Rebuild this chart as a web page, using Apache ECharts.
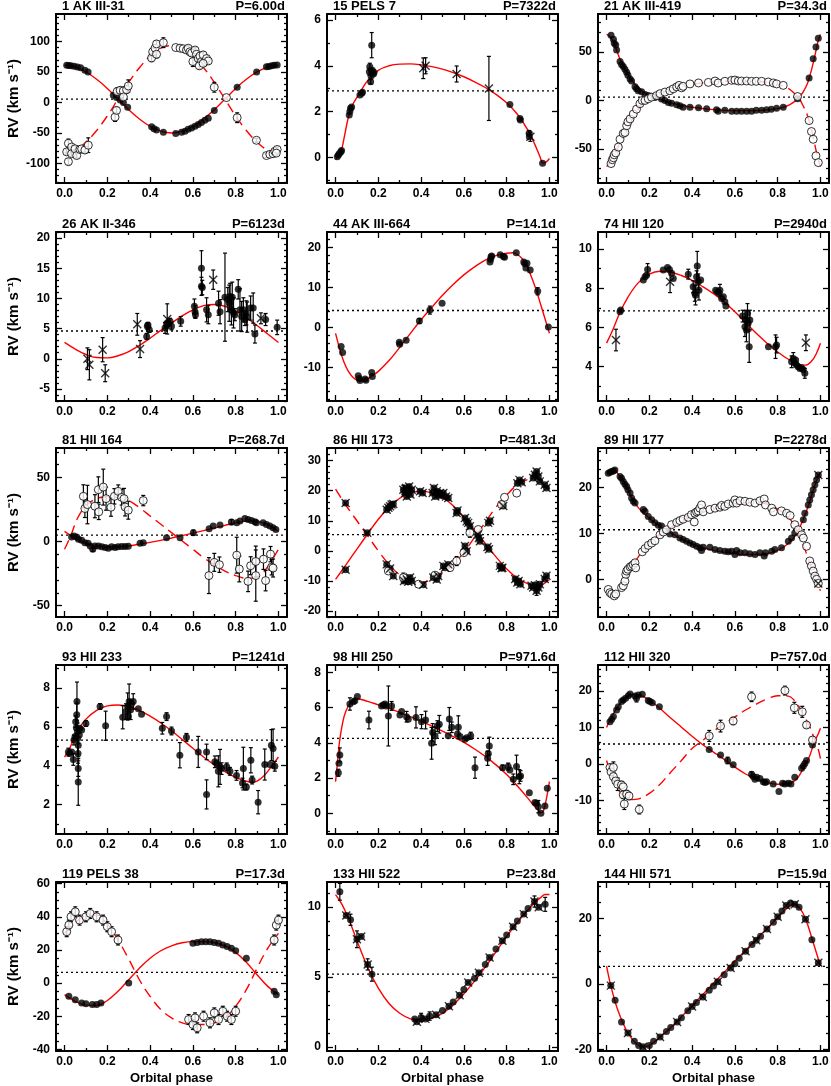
<!DOCTYPE html>
<html><head><meta charset="utf-8">
<script src="https://cdn.jsdelivr.net/npm/echarts@6/dist/echarts.min.js"></script>
<style>html,body{margin:0;padding:0;background:#fff}#c{width:831px;height:1086px}</style>
</head><body><div id="c"></div><script>
const FONT = '"Liberation Sans", Arial, Helvetica, sans-serif';
// ---------- panel labels ----------
const names = ['1 AK III-31','15 PELS 7','21 AK III-419','26 AK II-346','44 AK III-664','74 HII 120','81 HII 164','86 HII 173','89 HII 177','93 HII 233','98 HII 250','112 HII 320','119 PELS 38','133 HII 522','144 HII 571'];
const periods = ['P=6.00d','P=7322d','P=34.3d','P=6123d','P=14.1d','P=2940d','P=268.7d','P=481.3d','P=2278d','P=1241d','P=971.6d','P=757.0d','P=17.3d','P=23.8d','P=15.9d'];
const gammas = [5.5, 2.9, 3.5, 4.6, 4.2, 6.85, 5.0, 5.4, 10.8, 5.32, 4.25, 5.5, 6.5, 5.2, 5.4];
const yMins = [-132, -1.12, -85, -7, -18.4, 2.25, -58.8, -22, -8.2, 0.48, -1.17, -19.1, -41, -0.3, -20.5];
const yMaxs = [145, 6.26, 89, 21, 23.8, 10.87, 73, 34.2, 28.6, 9.19, 8.41, 27.1, 61, 11.8, 31.2];
const yTicks = [[-100,-50,0,50,100],[0,2,4,6],[-50,0,50],[-5,0,5,10,15,20],[-10,0,10,20],[4,6,8,10],[-50,0,50],[-20,-10,0,10,20,30],[0,10,20],[2,4,6,8],[0,2,4,6,8],[-10,0,10,20],[-40,-20,0,20,40,60],[0,5,10],[-20,0,20]];
const yMinorStep = [10,1,10,1,2,1,10,2,2,1,1,2,5,1,5];
const xTicks = [0,0.2,0.4,0.6,0.8,1.0];
const xMinor = [0.1,0.3,0.5,0.7,0.9];

// ---------- Panel 1 ----------
const p1F = [[0.01,61],[0.02,60.5],[0.03,60],[0.045,59.5],[0.06,58],[0.075,57],[0.095,53],[0.11,50],[0.228,12],[0.243,8],[0.26,4],[0.275,0],[0.295,-8],[0.407,-40],[0.418,-43],[0.43,-45],[0.462,-49],[0.52,-51],[0.547,-49],[0.563,-47],[0.578,-44],[0.594,-42],[0.61,-39],[0.625,-36],[0.64,-33],[0.656,-29],[0.672,-26],[0.70,-13],[0.807,25],[0.898,50],[0.944,58.5],[0.955,59],[0.968,60],[0.98,61],[0.994,61.5]];
const p1O = [[0.01,-81,4],[0.018,-67,7],[0.018,-97,5],[0.033,-73,4],[0.033,-84,4],[0.049,-76,4],[0.057,-87,4],[0.072,-77,4],[0.08,-76,4],[0.095,-78,5],[0.111,-70,12],[0.236,-24,7],[0.243,-13,5],[0.246,18,6],[0.26,20,5],[0.275,19,6],[0.275,9,5],[0.29,21,6],[0.298,27,10],[0.407,73,6],[0.412,83,6],[0.423,89,6],[0.43,96,5],[0.43,79,6],[0.462,98,8],[0.52,90,0],[0.54,89,0],[0.555,88,0],[0.57,86,0],[0.578,89,4],[0.586,83,4],[0.594,81,5],[0.6,67,8],[0.61,86,4],[0.617,79,5],[0.625,72,5],[0.633,76,5],[0.64,67,5],[0.648,78,5],[0.656,67,6],[0.664,72,5],[0.672,68,5],[0.63,60,5],[0.648,64,5],[0.70,25,8],[0.757,8,0],[0.807,-25,8],[0.897,-62,3],[0.944,-87,3],[0.96,-85,3],[0.975,-84,3],[0.983,-80,4],[0.994,-77,4],[0.99,-83,3]];
const p1CA = [[0,61],[0.05,58],[0.1,50],[0.15,38],[0.2,23],[0.25,5.5],[0.3,-12],[0.35,-27],[0.4,-39],[0.45,-47],[0.5,-50],[0.55,-47],[0.6,-39],[0.65,-27],[0.7,-12],[0.75,5.5],[0.8,23],[0.85,38],[0.9,50],[0.95,58],[1,61]];
const p1CB = [[0,-82],[0.05,-78],[0.1,-65],[0.15,-46],[0.2,-22],[0.25,5.5],[0.3,33],[0.35,57],[0.4,76],[0.45,89],[0.5,93],[0.55,89],[0.6,76],[0.65,57],[0.7,33],[0.75,5.5],[0.8,-22],[0.85,-46],[0.9,-65],[0.95,-78],[1,-82]];

// ---------- Panel 2 ----------
const p2F = [[0.008,0.03],[0.013,0.1],[0.018,0.17],[0.025,0.25],[0.028,0.3],[0.064,1.85],[0.067,2.0],[0.07,2.14],[0.075,2.2],[0.114,2.72],[0.122,2.8],[0.126,2.84],[0.158,3.74,0.15],[0.16,3.96,0.15],[0.164,3.3,0.1],[0.166,3.55,0.15],[0.169,4.9,0.55],[0.169,3.74],[0.172,3.8],[0.177,3.64],[0.18,3.7],[0.815,2.31],[0.862,1.7],[0.864,1.63],[0.905,1.05,0.12],[0.906,0.9],[0.968,-0.26]];
const p2X = [[0.41,3.89,0.45],[0.421,4.0,0.35],[0.566,3.64,0.35],[0.717,3.01,1.4],[0.911,0.9,0.2]];
const p2C = [[0,-0.1],[0.02,0.15],[0.03,0.4],[0.04,0.85],[0.06,1.75],[0.08,2.3],[0.1,2.62],[0.125,3.0],[0.15,3.35],[0.2,3.8],[0.25,4.0],[0.3,4.07],[0.35,4.08],[0.4,4.04],[0.45,3.96],[0.5,3.85],[0.55,3.7],[0.6,3.52],[0.65,3.3],[0.7,3.05],[0.75,2.75],[0.8,2.38],[0.85,1.88],[0.9,1.18],[0.93,0.6],[0.955,0.05],[0.97,-0.25],[0.985,-0.2],[1,-0.05]];

// ---------- Panel 3 ----------
const p3F = [[0.021,67],[0.032,63],[0.036,59],[0.043,57],[0.047,52],[0.063,40],[0.07,37],[0.078,35],[0.086,32],[0.094,29],[0.1,26],[0.11,22],[0.117,20],[0.133,14],[0.14,12],[0.148,10],[0.164,9],[0.18,6],[0.195,5],[0.21,4],[0.226,3],[0.257,1.4],[0.273,0],[0.289,-2],[0.304,-3],[0.328,-4.5],[0.343,-5.5],[0.358,-7],[0.39,-7],[0.43,-7.6],[0.468,-8.6],[0.514,-9.7],[0.522,-11],[0.553,-10],[0.585,-11],[0.608,-11],[0.631,-11],[0.655,-11],[0.678,-11],[0.7,-10],[0.725,-10],[0.748,-9.7],[0.77,-9],[0.795,-8],[0.826,-7],[0.893,1.7],[0.947,23],[0.966,43],[0.979,55],[0.99,64]];
const p3O = [[0.021,-65],[0.027,-61],[0.032,-59],[0.036,-56],[0.043,-54],[0.055,-48],[0.063,-40],[0.078,-34],[0.086,-33],[0.094,-26],[0.1,-22],[0.11,-19],[0.125,-14],[0.14,-9],[0.156,-3.4],[0.167,0],[0.18,0],[0.195,1.7],[0.21,3.4],[0.234,5],[0.25,7],[0.273,8.6],[0.296,10],[0.312,12],[0.328,14],[0.339,15.5],[0.351,13],[0.358,14.5],[0.39,17],[0.43,18],[0.476,18.6],[0.507,20],[0.522,18],[0.553,19.7],[0.585,20.7],[0.6,21],[0.616,20],[0.631,20],[0.655,20],[0.678,19.7],[0.7,19.7],[0.725,19.7],[0.756,19],[0.78,18],[0.795,17],[0.826,15.5],[0.893,4],[0.947,-20.7],[0.958,-32],[0.966,-40],[0.979,-57],[0.99,-64]];
const p3CA = [[0,68],[0.01,67],[0.02,64.5],[0.03,61],[0.04,56],[0.05,50],[0.06,44],[0.08,35],[0.1,27],[0.12,20.5],[0.14,15],[0.16,11],[0.18,7.5],[0.2,5],[0.25,1],[0.3,-2.5],[0.35,-5],[0.4,-7],[0.5,-9.5],[0.6,-10.5],[0.7,-10.5],[0.75,-9.8],[0.8,-8.3],[0.84,-6],[0.87,-2.5],[0.9,3],[0.92,9],[0.94,18],[0.96,33],[0.98,52],[0.99,62],[1,68]];
const p3CB = [[0,-68],[0.01,-66],[0.02,-62],[0.03,-58],[0.04,-54],[0.06,-45],[0.08,-36],[0.1,-27],[0.12,-19.5],[0.14,-12],[0.16,-5],[0.18,-0.5],[0.2,3],[0.25,7.5],[0.3,11],[0.35,14],[0.4,16.5],[0.5,19],[0.6,20],[0.7,19.5],[0.75,18.5],[0.8,16.5],[0.84,13.5],[0.87,9],[0.9,2],[0.92,-6],[0.94,-16],[0.96,-32],[0.98,-52],[0.99,-61],[1,-68]];

// ---------- Panel 4 ----------
const p4X = [[0.107,0.0,1.8],[0.116,-1.0,2.5],[0.178,1.5,2.0],[0.19,-2.4,1.4],[0.34,5.7,1.8],[0.353,1.6,1.4],[0.48,6.6,2.5],[0.695,13.1,1.6],[0.918,6.7,0.9]];
const p4F = [[0.384,3.7,0.5],[0.387,5.4,0.5],[0.39,5.6,0.4],[0.396,4.8,0.4],[0.47,5.1,0.9],[0.477,5.6,0.6],[0.485,5.9,0.5],[0.493,6.2,0.5],[0.5,5.4,0.6],[0.543,6.2,0.8],[0.607,8.7,1.2],[0.61,7.8,1.0],[0.612,7.3,0.6],[0.64,15.0,2.9],[0.64,12.0,1.5],[0.644,11.8,1.2],[0.664,8.1,2.0],[0.672,7.3,1.5],[0.72,9.2,2.0],[0.727,7.8,2.0],[0.75,10.2,7.3],[0.763,9.8,2.0],[0.77,9.2,3.0],[0.774,10.3,2.2],[0.78,8.1,2.5],[0.784,10.2,2.5],[0.79,7.6,2.5],[0.796,7.3,1.0],[0.812,11.5,1.6],[0.82,8.1,3.5],[0.828,7.0,2.5],[0.836,8.1,2.0],[0.843,6.5,1.0],[0.85,7.6,2.0],[0.854,6.9,2.5],[0.87,8.4,2.0],[0.882,8.4,2.5],[0.89,4.1,1.5],[0.94,6.5,1.0],[0.994,5.2,1.2]];
const p4C = [[0,2.7],[0.05,1.6],[0.1,0.7],[0.15,0.2],[0.2,0.15],[0.25,0.5],[0.3,1.2],[0.35,2.2],[0.4,3.4],[0.45,4.7],[0.5,5.9],[0.55,7.1],[0.6,8.1],[0.65,8.8],[0.7,9.0],[0.75,8.7],[0.8,7.9],[0.85,6.8],[0.9,5.5],[0.95,4.1],[1,2.7]];

// ---------- Panel 5 ----------
const p5F = [[0.026,-4.8],[0.033,-6.3],[0.106,-12.1],[0.111,-12.8],[0.114,-13.3],[0.138,-12.9],[0.142,-13.2],[0.169,-11.3],[0.172,-12.3],[0.298,-3.75],[0.3,-4.2],[0.33,-3.2],[0.392,1.6,0.6],[0.441,4.3,1.0],[0.498,6.0],[0.722,16.3],[0.725,17.0],[0.727,17.6],[0.73,17.8],[0.77,18.1],[0.785,17.7],[0.79,17.5],[0.845,18.6],[0.88,16.3],[0.885,15.9],[0.89,14.8],[0.895,16.0],[0.91,14.3],[0.945,9.0,0.9],[0.995,0.1]];
const p5C = [[0,-1.5],[0.02,-5.5],[0.04,-8.8],[0.06,-11],[0.08,-12.4],[0.1,-13.2],[0.12,-13.4],[0.15,-12.9],[0.2,-11],[0.25,-8.3],[0.3,-5],[0.35,-1.5],[0.4,1.9],[0.45,5],[0.5,8],[0.55,10.7],[0.6,13.1],[0.65,15.1],[0.7,16.8],[0.75,17.9],[0.8,18.5],[0.83,18.6],[0.86,17.8],[0.88,16.6],[0.9,14.6],[0.92,12],[0.94,9],[0.96,5.5],[0.98,2],[1,-1.5]];

// ---------- Panel 6 ----------
const p6X = [[0.044,5.36,0.55],[0.297,8.33,0.55],[0.932,5.22,0.4]];
const p6F = [[0.066,6.89],[0.063,6.8],[0.172,8.42],[0.18,8.59],[0.187,8.67],[0.192,8.96,0.3],[0.265,8.93],[0.285,9.06],[0.294,8.96],[0.304,8.76],[0.312,8.5],[0.382,8.72,0.25],[0.405,8.08,0.3],[0.413,7.74,0.4],[0.416,7.65,0.5],[0.421,8.59,0.3],[0.424,9.13,0.75],[0.429,8.33,0.4],[0.432,7.9,0.5],[0.44,8.42],[0.51,7.9],[0.518,7.82],[0.526,7.74],[0.53,7.9,0.3],[0.538,7.48],[0.546,7.57],[0.553,7.31],[0.558,7.1],[0.636,6.58,0.3],[0.647,6.04,0.5],[0.652,6.38,0.5],[0.654,5.87,0.6],[0.659,6.72,0.5],[0.662,6.21],[0.667,5.02,0.8],[0.67,6.38,0.5],[0.757,5.02],[0.79,5.02,0.6],[0.795,5.1,0.4],[0.865,4.25,0.3],[0.873,4.42,0.3],[0.881,4.17],[0.884,4.34],[0.888,4.08],[0.896,4.0],[0.904,3.91],[0.911,3.95],[0.919,3.86],[0.927,3.66,0.25]];
const p6C = [[0,5.2],[0.03,5.9],[0.06,6.7],[0.1,7.55],[0.15,8.3],[0.2,8.72],[0.25,8.87],[0.3,8.82],[0.35,8.65],[0.4,8.4],[0.45,8.08],[0.5,7.72],[0.55,7.3],[0.6,6.8],[0.65,6.25],[0.7,5.7],[0.75,5.2],[0.8,4.75],[0.85,4.38],[0.9,4.12],[0.93,4.08],[0.96,4.3],[0.98,4.65],[1,5.2]];

// ---------- Panel 7 ----------
const p7F = [[0.033,3.6],[0.044,4.4],[0.057,3.6],[0.065,1.8],[0.08,1.0],[0.095,-0.8],[0.11,-1.3],[0.12,-3.4],[0.132,-6,1.5],[0.142,-3.4],[0.158,-3.4],[0.174,-4.1],[0.19,-4.6],[0.205,-5.2],[0.22,-4.1],[0.236,-4.6],[0.25,-4.1],[0.267,-3.9],[0.283,-3.9],[0.298,-3.6],[0.353,-1.3],[0.368,-0.8],[0.477,3.1],[0.54,3.1],[0.602,7.0,2],[0.676,10.1],[0.695,12.1],[0.727,12.9],[0.78,15.2,2],[0.805,14.7],[0.82,16.0],[0.843,18.0],[0.858,17.3],[0.874,16.5],[0.89,15.5],[0.897,14.7],[0.928,14.7],[0.944,13.4],[0.96,12.1],[0.975,10.8],[0.988,9.5]];
const p7O = [[0.088,35.3,9],[0.095,25.8,7],[0.107,28.9,15],[0.142,27.6,9],[0.158,40.5,10],[0.16,23.2,6],[0.181,42.5,14],[0.194,33.5,9],[0.217,26.8,7],[0.233,35.3,6],[0.251,39.2,5],[0.267,34.5,6],[0.278,33.5,8],[0.283,27,7],[0.298,24.5,7],[0.368,32,4],[0.675,-26.5,14],[0.7,-16.2,7],[0.724,-18,6],[0.805,-10.6,14],[0.817,-21.4,10],[0.858,-31,8],[0.87,-18.8,7],[0.894,-26.5,20],[0.894,-15.5,12],[0.93,-13.7,8],[0.94,-30.4,8],[0.963,-9.8,6],[0.968,-20,6],[0.975,-20.6,7]];
const p7CA = [[0,8],[0.03,4.5],[0.06,1],[0.1,-1.7],[0.15,-3.3],[0.2,-4.0],[0.25,-4.0],[0.3,-3.3],[0.35,-2.0],[0.4,-0.6],[0.45,1.0],[0.5,2.8],[0.55,4.7],[0.6,6.6],[0.65,8.6],[0.7,10.6],[0.75,12.7],[0.8,14.6],[0.85,16.0],[0.88,16.2],[0.9,15.8],[0.93,14.5],[0.96,12.5],[1,8]];
const p7CB = [[0,-6],[0.03,5],[0.06,18],[0.1,28],[0.15,33.5],[0.2,35],[0.25,34.5],[0.3,32],[0.35,26.5],[0.4,20],[0.45,13.5],[0.5,7],[0.55,0.5],[0.6,-6],[0.65,-12.5],[0.7,-18],[0.75,-23],[0.8,-26.5],[0.85,-28.5],[0.88,-28.5],[0.9,-27.5],[0.93,-24],[0.96,-17],[1,-6]];

// ---------- Panel 8 ----------
const p8F = [[0.047,-6.3],[0.148,6.0],[0.239,13.7],[0.247,14.3],[0.255,14.8],[0.262,15.4],[0.27,15.6],[0.317,20.3,1.5],[0.325,19.2],[0.33,20.9],[0.333,18.1],[0.34,19.8],[0.344,21.4],[0.35,18.7],[0.356,20.3],[0.395,19.8],[0.407,19.2],[0.454,19.2],[0.46,20.9],[0.466,18.1],[0.473,19.8],[0.48,18.7],[0.488,19.2],[0.496,18.4],[0.504,19.2],[0.516,18.1],[0.527,17.6],[0.566,12.6],[0.57,13.4],[0.605,10.9],[0.613,9.8],[0.62,9.3],[0.628,8.2],[0.664,5.4],[0.67,4.3],[0.675,3.2],[0.71,1.3],[0.717,0.5],[0.768,-5.0],[0.776,-5.8],[0.78,-5.6],[0.84,-9.4],[0.85,-10.5],[0.856,-10],[0.864,-11.1],[0.916,-11.6],[0.924,-12.2],[0.932,-11.4],[0.94,-13.3,1.5],[0.948,-12.2],[0.955,-11.1],[0.978,-9.4],[0.986,-8.3],
 [0.047,15.9],[0.239,-4.5],[0.255,-5.9],[0.27,-8.4],[0.32,-10],[0.333,-9.5],[0.34,-10.3],[0.348,-8.9],[0.356,-10],[0.41,-11.3],[0.457,-8.9],[0.473,-9.5],[0.48,-8.4],[0.504,-5.0],[0.512,-5.6],[0.527,-4.5],[0.605,1.6],[0.613,-0.1],[0.714,9.3],[0.722,10.0],[0.784,14.9],[0.85,22.5],[0.86,23.6],[0.87,22.8],[0.924,24.2],[0.932,25.3],[0.94,26.4],[0.948,24.7],[0.955,23.1],[0.978,22],[0.986,20.9]];
const p8O = [[0.247,-6.7],[0.317,-8.9,1.5],[0.388,-11.1],[0.465,-8.1],[0.535,-5.6],[0.566,-3.4,1.5],[0.6,-0.6],[0.628,6.0,1.5],[0.667,7.1],[0.776,15.4],[0.79,17.8],[0.847,19.2]];
const p8CA = [[0,-9.5],[0.05,-4.5],[0.1,0.6],[0.15,5.6],[0.2,10.5],[0.25,14.5],[0.3,17.5],[0.35,19.3],[0.4,19.8],[0.45,19.3],[0.5,17.8],[0.55,15],[0.6,11],[0.65,7],[0.7,2.5],[0.75,-2],[0.8,-6],[0.85,-9.1],[0.9,-11],[0.93,-12],[0.96,-11.5],[1,-9.5]];
const p8CB = [[0,20.5],[0.05,15],[0.1,10],[0.15,5],[0.2,0],[0.25,-4.5],[0.3,-8],[0.35,-10],[0.4,-10.5],[0.45,-9.5],[0.5,-7.5],[0.55,-4.5],[0.6,-0.5],[0.65,4.5],[0.7,9.5],[0.75,14.5],[0.8,18.5],[0.85,22],[0.9,23.8],[0.93,24.2],[0.96,23.5],[1,20.5]];

// ---------- Panel 9 ----------
const p9F = [[0.008,23.1],[0.016,23.3],[0.024,23.5],[0.032,23.6],[0.039,23.8],[0.063,22.4],[0.07,22.0],[0.078,21.3],[0.086,20.7],[0.094,20.2],[0.1,19.5],[0.11,18.8],[0.117,17.7],[0.125,17.0],[0.133,16.6],[0.172,15.2],[0.18,14.8],[0.195,13.7],[0.211,13.0],[0.226,12.3],[0.242,11.8],[0.257,11.6],[0.28,10.5],[0.296,9.9],[0.32,9.7],[0.343,9.0],[0.358,8.7],[0.374,8.3],[0.39,7.9],[0.405,7.6],[0.421,7.2],[0.436,6.9],[0.444,6.3],[0.452,7.0],[0.483,7.0],[0.507,6.5],[0.53,6.3],[0.553,6.1],[0.569,6.0],[0.585,6.1],[0.6,5.4],[0.608,6.3],[0.624,5.8],[0.647,5.8],[0.67,5.6],[0.694,5.4],[0.717,5.8],[0.737,5.1],[0.743,5.8],[0.772,6.1],[0.787,6.5],[0.818,6.9],[0.85,8.3],[0.865,9.0],[0.88,10.1],[0.92,13.0],[0.927,14.4],[0.943,16.2],[0.95,17.3],[0.958,18.4],[0.966,19.5],[0.974,20.6],[0.982,21.7],[0.99,22.7]];
const p9O = [[0.008,-2.2],[0.016,-2.9],[0.024,-3.2],[0.036,-3.6],[0.043,-3.2],[0.07,-1.8],[0.078,-1.4],[0.086,-0.4],[0.09,1.1],[0.094,1.8],[0.1,2.2],[0.11,2.7],[0.117,2.9],[0.125,3.2],[0.133,3.6],[0.136,2.5],[0.167,6.0],[0.18,6.7],[0.195,7.4],[0.211,7.9],[0.226,8.4],[0.25,9.7],[0.265,10.3],[0.28,10.8],[0.304,11.9],[0.328,12.4],[0.343,12.8],[0.358,13.1],[0.382,13.5],[0.397,14.1],[0.41,12.5],[0.413,14.4],[0.421,14.7],[0.429,14.9],[0.436,15.5],[0.444,16.2],[0.452,14.7],[0.483,15.2],[0.507,15.5],[0.53,15.7],[0.538,16.1],[0.553,15.9],[0.569,16.4],[0.592,16.6],[0.6,17.3],[0.608,16.6],[0.624,17.1],[0.647,17.0],[0.67,16.8],[0.694,16.6],[0.717,17.1],[0.737,17.5],[0.743,16.2],[0.772,15.5],[0.78,14.7],[0.818,14.9],[0.842,14.4],[0.858,13.9],[0.88,11.9],[0.896,10.8],[0.912,9.7],[0.92,9.0],[0.935,7.2],[0.95,4.0],[0.958,2.9],[0.966,1.8],[0.974,0.7],[0.982,0],[0.99,-0.9]];
const p9X = [[0.99,22.7],[0.99,-0.9]];
const p9CA = [[0,23.3],[0.02,23.7],[0.04,23.6],[0.06,22.5],[0.08,21.3],[0.1,19.5],[0.12,17.5],[0.15,15.5],[0.2,13.3],[0.25,11.6],[0.3,10.1],[0.35,8.8],[0.4,7.7],[0.45,6.9],[0.5,6.3],[0.55,5.9],[0.6,5.6],[0.65,5.4],[0.7,5.4],[0.75,5.6],[0.8,6.3],[0.85,7.8],[0.88,9.4],[0.9,11],[0.93,14.3],[0.96,18.4],[0.98,21.3],[1,23.3]];
const p9CB = [[0,-2.5],[0.02,-3.4],[0.04,-3.3],[0.06,-2.3],[0.08,-0.8],[0.1,1],[0.12,2.8],[0.15,5.0],[0.2,7.8],[0.25,9.8],[0.3,11.3],[0.35,12.6],[0.4,13.7],[0.45,14.6],[0.5,15.3],[0.55,15.8],[0.6,16.3],[0.65,16.7],[0.7,16.8],[0.75,16.4],[0.8,15.3],[0.85,13.5],[0.88,11.6],[0.9,9.8],[0.93,6.2],[0.96,2.3],[0.98,-0.3],[1,-2.5]];

// ---------- Panel 10 ----------
const p10F = [[0.018,4.7,0.2],[0.025,4.63],[0.033,4.7],[0.041,4.32,0.3],[0.044,5.32,0.25],[0.049,5.5],[0.052,6.27,0.3],[0.055,5.96,0.4],[0.057,6.62,0.6],[0.058,7.31,1.0],[0.06,5.75],[0.061,5.4,0.8],[0.064,5.06,0.6],[0.063,4.63,0.5],[0.064,3.85,0.4],[0.064,3.16,1.2],[0.069,5.58],[0.072,5.93],[0.08,5.84],[0.1,6.18,0.15],[0.166,7.05,0.15],[0.192,6.06,0.75],[0.272,6.5,0.6],[0.287,6.79,0.4],[0.295,7.05,0.7],[0.298,6.53],[0.302,7.31,0.9],[0.309,6.88,0.5],[0.313,7.19],[0.321,7.31,0.4],[0.345,6.93],[0.36,6.65],[0.457,5.93,0.3],[0.477,6.53,0.2],[0.5,5.79,0.2],[0.539,4.54,0.65],[0.57,5.46,0.2],[0.625,4.71,0.8],[0.664,2.52,0.75],[0.664,4.71,0.4],[0.703,4.2,0.3],[0.711,4.11],[0.719,3.71,0.8],[0.727,3.94,0.9],[0.734,3.85,0.3],[0.758,3.94,0.2],[0.773,3.71,0.2],[0.804,3.5,0.25],[0.836,3.85,1.1],[0.832,3.11,0.25],[0.85,2.9,0.15],[0.871,4.28,0.65],[0.877,3.26,0.2],[0.905,2.12,0.6],[0.936,4.06,0.8],[0.96,4.06],[0.967,5.06,0.8],[0.975,4.89,1.0],[0.983,3.97,0.25]];
const p10C = [[0,4.45],[0.02,4.8],[0.04,5.3],[0.06,5.8],[0.1,6.4],[0.15,6.85],[0.2,7.08],[0.25,7.13],[0.3,7.05],[0.35,6.85],[0.4,6.55],[0.45,6.2],[0.5,5.8],[0.55,5.35],[0.6,4.9],[0.65,4.45],[0.7,4.05],[0.75,3.7],[0.8,3.4],[0.85,3.2],[0.88,3.15],[0.9,3.2],[0.93,3.45],[0.96,3.85],[1,4.45]];

// ---------- Panel 11 ----------
const p11F = [[0.013,2.3,0.2],[0.016,2.84],[0.02,3.31,0.4],[0.067,6.2,0.35],[0.083,6.33],[0.09,6.39],[0.102,6.62],[0.156,5.29,0.5],[0.215,6.09],[0.223,6.14],[0.231,6.2],[0.236,6.09],[0.247,5.52,1.7],[0.262,6.09,0.25],[0.301,5.58],[0.309,5.77],[0.332,5.48,0.3],[0.34,5.33],[0.376,5.44,0.6],[0.402,5.2,0.4],[0.421,5.29,0.5],[0.449,3.97,0.9],[0.454,4.59,0.5],[0.465,4.39,0.5],[0.476,4.95,0.3],[0.485,5.05,0.5],[0.527,4.4],[0.532,5.35,0.65],[0.543,4.88,0.3],[0.57,4.5],[0.574,4.88,0.65],[0.582,4.35],[0.605,4.2],[0.613,4.29],[0.632,4.4,0.2],[0.652,2.59,0.6],[0.711,3.12,0.4],[0.714,3.4],[0.719,3.82,0.5],[0.781,2.59,0.15],[0.807,2.65,0.2],[0.815,2.46],[0.831,1.93,0.3],[0.846,2.65,0.65],[0.859,2.08,0.4],[0.865,2.12,0.3],[0.906,1.17],[0.932,0.62],[0.94,0.57],[0.948,0.38,0.35],[0.96,0],[0.979,0.42],[0.99,1.42]];
const p11C = [[0,1.8],[0.01,3.0],[0.02,4.2],[0.04,5.5],[0.06,6.1],[0.08,6.4],[0.1,6.5],[0.15,6.35],[0.2,6.15],[0.25,5.95],[0.3,5.72],[0.35,5.48],[0.4,5.22],[0.45,4.95],[0.5,4.66],[0.55,4.35],[0.6,4.02],[0.65,3.65],[0.7,3.23],[0.75,2.75],[0.8,2.2],[0.85,1.55],[0.9,0.85],[0.93,0.4],[0.95,0.15],[0.96,0.05],[0.97,0.1],[0.98,0.5],[0.99,1.1],[1,1.8]];

// ---------- Panel 12 ----------
const p12F = [[0.016,11.6],[0.024,12.3],[0.032,13.0],[0.047,14.8],[0.055,15.7],[0.07,17.1],[0.078,17.5],[0.089,18.0],[0.102,18.7],[0.11,19.2],[0.133,18.6],[0.14,18.0,1],[0.148,18.9],[0.167,19.1],[0.195,17.4],[0.203,17.1],[0.214,16.8],[0.247,15.7],[0.48,4.0],[0.533,2.5],[0.566,1.0,0.9],[0.592,-0.2],[0.678,-2.8,0.7],[0.686,-3.4],[0.694,-4.1],[0.702,-3.6],[0.717,-3.9],[0.733,-4.8],[0.741,-5.0],[0.748,-4.8],[0.779,-5.4],[0.806,-7.5],[0.823,-5.2],[0.834,-5.4],[0.85,-5.2],[0.862,-5.4],[0.88,-3.6],[0.912,-1.1],[0.92,-0.5],[0.927,0.2],[0.935,1.0],[0.963,5.2]];
const p12O = [[0.016,-0.9,0.8],[0.021,-2.1,1],[0.032,-0.9,1.5],[0.032,-3.4,1],[0.043,-4.6,0.8],[0.052,-5.5,1.7],[0.07,-5.7,1],[0.078,-6.2,0],[0.078,-8.4,1],[0.083,-10.9,1.5],[0.094,-8.2,1],[0.105,-8.7,1],[0.153,-12.4,1.2],[0.48,7.7,1.5],[0.533,10.4,1.6],[0.592,11.8,1],[0.678,18.4,1.3],[0.834,20.1,1.2],[0.878,15.4,1.5],[0.915,14.3,1.5],[0.935,10.7,0.8],[0.963,6.6,0.9]];
const p12CA = [[0,10],[0.02,12.5],[0.05,15.5],[0.08,17.8],[0.1,18.6],[0.12,19.0],[0.15,18.9],[0.2,17.5],[0.25,15.2],[0.3,12.6],[0.35,10.1],[0.4,7.6],[0.45,5.3],[0.5,3.3],[0.55,1.3],[0.6,-0.8],[0.65,-2.7],[0.7,-4.0],[0.75,-5.0],[0.8,-5.5],[0.85,-5.3],[0.88,-4.5],[0.9,-3.2],[0.93,0],[0.95,2.3],[0.97,5.8],[0.99,8.3],[1,9.8]];
const p12CB = [[0,1],[0.02,-2.5],[0.05,-6.5],[0.08,-8.8],[0.1,-9.4],[0.12,-9.7],[0.15,-9.5],[0.2,-8],[0.25,-5.5],[0.3,-2.2],[0.35,1.0],[0.4,4.3],[0.45,6.5],[0.5,9],[0.55,11],[0.6,12.9],[0.65,14.8],[0.7,16.4],[0.75,17.8],[0.8,18.7],[0.85,18.6],[0.88,17.3],[0.9,15.7],[0.93,12.5],[0.95,10.3],[0.97,7.2],[0.99,4],[1,1.5]];

// ---------- Panel 13 ----------
const p13F = [[0.02,-8],[0.05,-10],[0.08,-12],[0.1,-12.5],[0.13,-13],[0.15,-13],[0.17,-12],[0.3,0],[0.6,24],[0.62,24.5],[0.64,25],[0.66,25],[0.68,25],[0.7,24.5],[0.72,24],[0.74,23],[0.76,22],[0.78,21],[0.8,19.5],[0.85,15],[0.98,-5],[0.99,-7]];
const p13O = [[0.01,31,3],[0.02,35,3],[0.03,40,3],[0.05,43,3],[0.07,38,3],[0.1,40,3],[0.12,42,3],[0.15,40,3],[0.18,38,3],[0.2,34,3],[0.22,31,3],[0.25,26,3],[0.58,-22,3],[0.6,-25,3],[0.61,-21,3],[0.62,-27,3],[0.65,-20,3],[0.68,-24,3],[0.7,-18,3],[0.72,-22,3],[0.74,-17,3],[0.76,-20,3],[0.78,-22,3],[0.8,-17,3],[0.98,26,3],[0.99,35,3],[1.0,38,3]];
const p13CA = [[0,-7],[0.05,-11],[0.1,-13.3],[0.15,-13.5],[0.2,-10.5],[0.25,-5],[0.3,2],[0.35,9],[0.4,15],[0.45,19.5],[0.5,22.5],[0.55,24.3],[0.6,25],[0.65,25],[0.7,24.3],[0.75,22.5],[0.8,18.5],[0.85,12.5],[0.9,5],[0.95,-2],[1,-7]];
const p13CB = [[0,30],[0.05,36.5],[0.1,40.5],[0.15,41],[0.2,35.5],[0.25,26],[0.3,14.5],[0.35,2],[0.4,-8],[0.45,-16],[0.5,-21],[0.55,-24],[0.6,-25],[0.65,-25],[0.7,-24],[0.75,-21],[0.8,-14],[0.85,-4],[0.9,9],[0.95,21],[1,30]];

// ---------- Panel 14 ----------
const p14F = [[0.02,11.1,0.6],[0.05,9.4],[0.07,9.1,0.4],[0.1,7.7,0.6],[0.12,7.9],[0.15,5.9,0.4],[0.17,5.2,0.5],[0.37,2.0],[0.38,1.8],[0.4,2.1,0.3],[0.42,2.0],[0.44,2.2,0.3],[0.47,2.3],[0.5,2.6],[0.53,2.9],[0.55,3.2],[0.58,3.7],[0.6,4.1],[0.62,4.6],[0.65,4.9],[0.67,5.3],[0.7,5.9],[0.72,6.4],[0.75,7.0],[0.78,7.6],[0.8,8.0],[0.83,8.6],[0.85,9.0],[0.88,9.5],[0.9,9.9],[0.93,10.4,0.4],[0.95,10.0],[0.98,10.2,0.5]];
const p14X = [[0.05,9.4],[0.1,7.7],[0.12,7.9],[0.15,5.9],[0.38,1.8],[0.42,2.0],[0.47,2.3],[0.53,2.9],[0.58,3.7],[0.62,4.6],[0.67,5.3],[0.72,6.4],[0.78,7.6],[0.83,8.6],[0.88,9.5],[0.93,10.4],[0.95,10.0]];
const p14C = [[0,10.9],[0.03,10.2],[0.06,9.2],[0.1,7.6],[0.15,5.7],[0.2,4.2],[0.25,3.1],[0.3,2.4],[0.35,2.0],[0.4,1.9],[0.45,2.05],[0.5,2.4],[0.55,3.0],[0.6,3.8],[0.65,4.7],[0.7,5.7],[0.75,6.8],[0.8,7.9],[0.85,8.9],[0.9,9.8],[0.93,10.3],[0.96,10.7],[0.98,10.9],[1,10.9]];

// ---------- Panel 15 ----------
const p15F = [[0.02,-0.5],[0.04,-5],[0.07,-11.6],[0.1,-15],[0.13,-17.5],[0.15,-18.8],[0.17,-19.2],[0.2,-18.8],[0.22,-17.5],[0.25,-16.2],[0.28,-14.5],[0.3,-13.3],[0.33,-11.6],[0.35,-10.3],[0.38,-8.2],[0.4,-6.9],[0.42,-5.7],[0.45,-4.0],[0.48,-1.9],[0.5,-0.6],[0.52,0.7],[0.55,2.8],[0.58,4.9],[0.6,6.2],[0.62,7.9],[0.65,10.0],[0.68,12.1],[0.7,13.4],[0.72,14.6],[0.75,16.8],[0.78,18.9],[0.8,20.6],[0.82,22.3],[0.84,24.0],[0.86,24.8],[0.88,24.4],[0.9,23.5],[0.93,19.8],[0.96,13.5],[0.99,6.5]];
const p15X = [[0.02,-0.5],[0.1,-15],[0.17,-19.2],[0.25,-16.2],[0.33,-11.6],[0.4,-6.9],[0.45,-4.0],[0.52,0.7],[0.58,4.9],[0.65,10.0],[0.7,13.4],[0.75,16.8],[0.8,20.6],[0.84,24.0],[0.88,24.4],[0.93,19.8],[0.99,6.5]];
const p15C = [[0,5.5],[0.02,-0.5],[0.05,-7.5],[0.1,-15],[0.15,-18.8],[0.18,-19.2],[0.2,-18.8],[0.25,-16.3],[0.3,-13.3],[0.35,-10],[0.4,-6.6],[0.45,-3.2],[0.5,0.2],[0.55,3.6],[0.6,7],[0.65,10.3],[0.7,13.7],[0.75,17],[0.8,20.3],[0.83,22.4],[0.86,24],[0.88,24.4],[0.9,23.6],[0.93,20],[0.96,14],[1,5.5]];

// ---------- assembly table ----------
const panelSets = [
 {f:p1F,o:p1O,ca:p1CA,cb:p1CB},
 {f:p2F,x:p2X,ca:p2C},
 {f:p3F,o:p3O,ca:p3CA,cb:p3CB},
 {f:p4F,x:p4X,ca:p4C},
 {f:p5F,ca:p5C},
 {f:p6F,x:p6X,ca:p6C},
 {f:p7F,o:p7O,ca:p7CA,cb:p7CB},
 {f:p8F,o:p8O,x:p8F,ca:p8CA,cb:p8CB},
 {f:p9F,o:p9O,x:p9X,ca:p9CA,cb:p9CB},
 {f:p10F,ca:p10C},
 {f:p11F,ca:p11C},
 {f:p12F,o:p12O,ca:p12CA,cb:p12CB},
 {f:p13F,o:p13O,ca:p13CA,cb:p13CB},
 {f:p14F,x:p14X,ca:p14C},
 {f:p15F,x:p15X,ca:p15C}
];

const gridL = [56, 327, 598];
const gridT = [14, 232, 448, 665, 882];
const W = 231, H = 169;
const XMIN = -0.04, XMAX = 1.04;
const CROSS = 'path://M0,0L10,10M10,0L0,10';

const option = {animation:false, backgroundColor:'#fff', grid:[], xAxis:[], yAxis:[], series:[], title:[]};

function minorList(lo, hi, step, majors){
  const out=[]; const s=Math.ceil(lo/step-1e-9);
  for(let k=s; k*step<=hi+1e-9; k++){ const v=+(k*step).toFixed(6); if(!majors.some(m=>Math.abs(m-v)<1e-9)) out.push(v); }
  return out;
}
function mkX(i, pos, ticks, len, labels, line, nameOn){
  return {type:'value', gridIndex:i, position:pos, min:XMIN, max:XMAX,
    axisLine:{show:line, onZero:false, lineStyle:{color:'#000', width:2}},
    axisTick:{show:true, inside:true, length:len, customValues:ticks, lineStyle:{color:'#000', width:1.3}},
    axisLabel:{show:labels, customValues:ticks, formatter:v=>Number(v).toFixed(1), color:'#000', fontFamily:FONT, fontWeight:'bold', fontSize:12, margin:5},
    splitLine:{show:false},
    name: nameOn ? 'Orbital phase' : '', nameLocation:'middle', nameGap:21,
    nameTextStyle:{fontFamily:FONT, fontWeight:'bold', fontSize:13, color:'#000'}};
}
function mkY(i, pos, ticks, len, labels, line, nameOn){
  return {type:'value', gridIndex:i, position:pos, min:yMins[i], max:yMaxs[i],
    axisLine:{show:line, onZero:false, lineStyle:{color:'#000', width:2}},
    axisTick:{show:true, inside:true, length:len, customValues:ticks, lineStyle:{color:'#000', width:1.3}},
    axisLabel:{show:labels, customValues:ticks, color:'#000', fontFamily:FONT, fontWeight:'bold', fontSize:12, margin:6},
    splitLine:{show:false},
    name: nameOn ? 'RV (km s\u207B\u00B9)' : '', nameLocation:'middle', nameGap:35, nameRotate:90,
    nameTextStyle:{fontFamily:FONT, fontWeight:'bold', fontSize:15, color:'#000'}};
}
function errSeries(data, ai){
  return {type:'custom', xAxisIndex:ai, yAxisIndex:ai, z:3, silent:true, clip:true,
    data: data.filter(d=>d[2]>0).map(d=>[d[0],d[1],d[2]]),
    encode:{x:0, y:1},
    renderItem:function(params, api){
      const x=api.value(0), y=api.value(1), e=api.value(2);
      const a=api.coord([x,y-e]), b=api.coord([x,y+e]); const c=2;
      const st={stroke:'#000', lineWidth:1.2};
      return {type:'group', children:[
        {type:'line', shape:{x1:a[0],y1:a[1],x2:b[0],y2:b[1]}, style:st},
        {type:'line', shape:{x1:a[0]-c,y1:a[1],x2:a[0]+c,y2:a[1]}, style:st},
        {type:'line', shape:{x1:b[0]-c,y1:b[1],x2:b[0]+c,y2:b[1]}, style:st}]};
    }};
}

for(let i=0;i<15;i++){
  const r=Math.floor(i/3), c=i%3;
  const L=gridL[c], T=gridT[r];
  option.grid.push({left:L, top:T, width:W, height:H, containLabel:false, outerBoundsMode:'none'});
  const yMinor = minorList(yMins[i], yMaxs[i], yMinorStep[i], yTicks[i]);
  const base = i*4;
  option.xAxis.push(mkX(i,'bottom',xTicks,6,true,true, r===4));
  option.xAxis.push(mkX(i,'bottom',xMinor,3,false,false,false));
  option.xAxis.push(mkX(i,'top',xTicks,6,false,true,false));
  option.xAxis.push(mkX(i,'top',xMinor,3,false,false,false));
  option.yAxis.push(mkY(i,'left',yTicks[i],6,true,true, c===0));
  option.yAxis.push(mkY(i,'left',yMinor,3,false,false,false));
  option.yAxis.push(mkY(i,'right',yTicks[i],6,false,true,false));
  option.yAxis.push(mkY(i,'right',yMinor,3,false,false,false));

  option.title.push({text:names[i], left:L+6, top:T-14, padding:0,
    textStyle:{fontFamily:FONT, fontWeight:'bold', fontSize:13, color:'#000'}});
  option.title.push({text:periods[i], right:831-(L+W)+2, top:T-14, padding:0,
    textStyle:{fontFamily:FONT, fontWeight:'bold', fontSize:13, color:'#000'}});

  option.series.push({type:'line', xAxisIndex:base, yAxisIndex:base, data:[[XMIN,gammas[i]],[XMAX,gammas[i]]],
    symbol:'none', z:1, silent:true, lineStyle:{color:'#000', width:1.3, type:[2,3]}});
  const S = panelSets[i];
  if(S.ca) option.series.push({type:'line', xAxisIndex:base, yAxisIndex:base, data:S.ca, smooth:0.4, symbol:'none', z:2, silent:true,
    lineStyle:{color:'#ff0000', width:1.4}});
  if(S.cb) option.series.push({type:'line', xAxisIndex:base, yAxisIndex:base, data:S.cb, smooth:0.4, symbol:'none', z:2, silent:true,
    lineStyle:{color:'#ff0000', width:1.4, type:[10,6]}});
  const all = [].concat(S.f||[], S.o||[], (S.x && S.x!==S.f)?S.x:[]);
  option.series.push(errSeries(all, base));
  if(S.f) option.series.push({type:'scatter', xAxisIndex:base, yAxisIndex:base, z:4, silent:true,
    data:S.f.map(d=>[d[0],d[1]]), symbol:'circle', symbolSize:7, itemStyle:{color:'#000'}});
  if(S.o) option.series.push({type:'scatter', xAxisIndex:base, yAxisIndex:base, z:5, silent:true,
    data:S.o.map(d=>[d[0],d[1]]), symbol:'circle', symbolSize:8, itemStyle:{color:'#fff', borderColor:'#000', borderWidth:1}});
  if(S.x) option.series.push({type:'scatter', xAxisIndex:base, yAxisIndex:base, z:6, silent:true,
    data:S.x.map(d=>[d[0],d[1]]), symbol:CROSS, symbolSize:8, itemStyle:{color:'rgba(0,0,0,0)', borderColor:'#000', borderWidth:1.4}});
}

const chart = echarts.init(document.getElementById('c'), null, {renderer:'canvas'});
chart.setOption(option);
</script></body></html>
